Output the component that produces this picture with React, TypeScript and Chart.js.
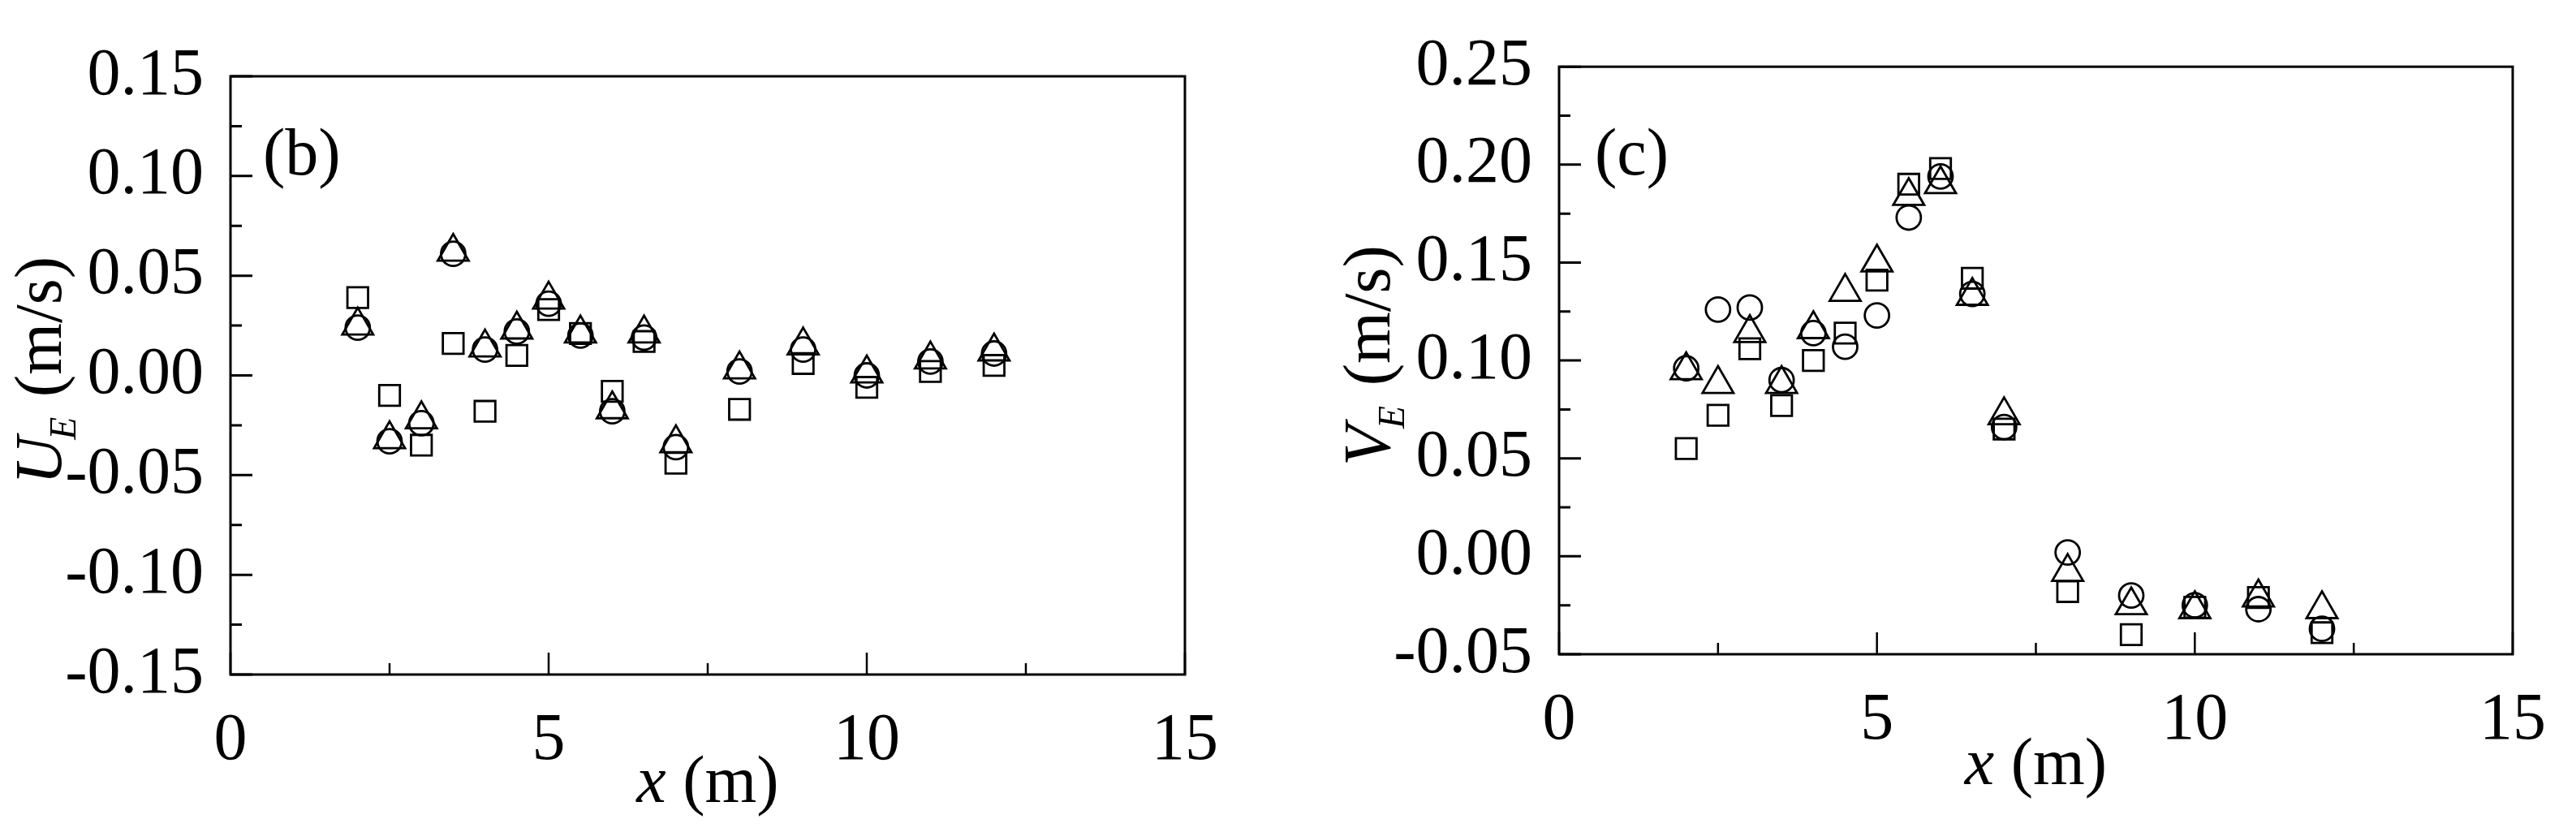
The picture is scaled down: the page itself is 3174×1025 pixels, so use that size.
import React, { useEffect, useRef } from 'react';
import { Chart, registerables } from 'chart.js';

Chart.register(...registerables);

// ---------- data ----------
const xPositions = [2, 2.5, 3, 3.5, 4, 4.5, 5, 5.5, 6, 6.5, 7, 8, 9, 10, 11, 12];

// panel (b): U_E (m/s)
const uSquares = [0.039, -0.010, -0.035, 0.016, -0.018, 0.010, 0.033, 0.021, -0.008, 0.017, -0.044, -0.017, 0.006, -0.006, 0.002, 0.005];
const uCircles = [0.024, -0.033, -0.024, 0.061, 0.013, 0.022, 0.036, 0.020, -0.018, 0.019, -0.036, 0.002, 0.013, 0.000, 0.007, 0.011];
const uTriangles = [0.025, -0.032, -0.022, 0.062, 0.014, 0.023, 0.038, 0.021, -0.017, 0.021, -0.034, 0.003, 0.015, 0.001, 0.008, 0.012];

// panel (c): V_E (m/s)
const vSquares = [0.055, 0.072, 0.106, 0.077, 0.100, 0.114, 0.141, 0.190, 0.198, 0.142, 0.065, -0.018, -0.040, -0.026, -0.021, -0.039];
const vCircles = [0.096, 0.126, 0.127, 0.090, 0.114, 0.107, 0.123, 0.173, 0.194, 0.134, 0.066, 0.002, -0.020, -0.025, -0.027, -0.037];
const vTriangles = [0.095, 0.088, 0.114, 0.088, 0.116, 0.135, 0.150, 0.184, 0.190, 0.133, 0.072, -0.008, -0.025, -0.027, -0.021, -0.027];

// ticks
const xTicksMajor = [0, 5, 10, 15];
const xTicksMinor = [2.5, 7.5, 12.5];
const uTicksMajor = [-0.15, -0.1, -0.05, 0, 0.05, 0.1, 0.15];
const uTicksMinor = [-0.125, -0.075, -0.025, 0.025, 0.075, 0.125];
const vTicksMajor = [-0.05, 0, 0.05, 0.1, 0.15, 0.2, 0.25];
const vTicksMinor = [-0.025, 0.025, 0.075, 0.125, 0.175, 0.225];

const FONT = '"Liberation Serif", "Times New Roman", serif';
const TICK_SIZE = 82;
const TITLE_SIZE = 82;

const framePlugin = {
  id: 'frame',
  afterDraw(chart: any, _args: any, opts: any) {
    const { ctx, chartArea } = chart;
    const { left, right, top, bottom } = chartArea;
    const xs = chart.scales.x;
    const ys = chart.scales.y;
    ctx.save();
    ctx.strokeStyle = '#000';
    // frame
    ctx.lineWidth = 3;
    ctx.strokeRect(left, top, right - left, bottom - top);
    // x ticks (inward from bottom)
    ctx.lineWidth = 2.5;
    ctx.beginPath();
    opts.xMajor.forEach((v: number) => {
      const p = xs.getPixelForValue(v);
      ctx.moveTo(p, bottom);
      ctx.lineTo(p, bottom - 27);
    });
    opts.xMinor.forEach((v: number) => {
      const p = xs.getPixelForValue(v);
      ctx.moveTo(p, bottom);
      ctx.lineTo(p, bottom - 14);
    });
    ctx.stroke();
    // y ticks (inward from left)
    ctx.lineWidth = 3;
    ctx.beginPath();
    opts.yMajor.forEach((v: number) => {
      const p = ys.getPixelForValue(v);
      ctx.moveTo(left, p);
      ctx.lineTo(left + 27, p);
    });
    opts.yMinor.forEach((v: number) => {
      const p = ys.getPixelForValue(v);
      ctx.moveTo(left, p);
      ctx.lineTo(left + 14, p);
    });
    ctx.stroke();

    ctx.fillStyle = '#000';
    // panel label
    ctx.font = `${TICK_SIZE}px ${FONT}`;
    ctx.textAlign = 'left';
    ctx.textBaseline = 'alphabetic';
    ctx.fillText(opts.panel, left + opts.panelDx, top + opts.panelDy);

    // x title: italic x + " (m)"
    const cx = (left + right) / 2;
    const by = bottom + opts.xTitleDy;
    ctx.font = `italic ${TITLE_SIZE}px ${FONT}`;
    const wx = ctx.measureText('x').width;
    ctx.font = `${TITLE_SIZE}px ${FONT}`;
    const wm = ctx.measureText(' (m)').width;
    const sx = cx - (wx + wm) / 2;
    ctx.font = `italic ${TITLE_SIZE}px ${FONT}`;
    ctx.fillText('x', sx, by);
    ctx.font = `${TITLE_SIZE}px ${FONT}`;
    ctx.fillText(' (m)', sx + wx, by);

    // y title: rotated, italic letter + subscript E + " (m/s)"
    const subSize = 46;
    ctx.font = `italic ${TITLE_SIZE}px ${FONT}`;
    const w1 = ctx.measureText(opts.yLetter).width;
    ctx.font = `italic ${subSize}px ${FONT}`;
    const w2 = ctx.measureText('E').width;
    ctx.font = `${TITLE_SIZE}px ${FONT}`;
    const w3 = ctx.measureText(' (m/s)').width;
    const total = w1 + w2 + w3;
    ctx.translate(left - opts.yTitleDx, (top + bottom) / 2 - 6);
    ctx.rotate(-Math.PI / 2);
    let tx = -total / 2;
    ctx.font = `italic ${TITLE_SIZE}px ${FONT}`;
    ctx.fillText(opts.yLetter, tx, 0);
    tx += w1;
    ctx.font = `italic ${subSize}px ${FONT}`;
    ctx.fillText('E', tx - 4, 18);
    tx += w2;
    ctx.font = `${TITLE_SIZE}px ${FONT}`;
    ctx.fillText(' (m/s)', tx, 0);
    ctx.restore();
  },
};

function makeDatasets(sq: number[], ci: number[], tr: number[]) {
  const pts = (arr: number[]) => xPositions.map((x, i) => ({ x, y: arr[i] }));
  const common = {
    showLine: false,
    pointBorderColor: '#000',
    borderColor: '#000',
    pointBackgroundColor: 'rgba(0,0,0,0)',
    backgroundColor: 'rgba(0,0,0,0)',
    pointBorderWidth: 2.8,
    pointHoverRadius: 0,
  };
  return [
    { ...common, label: 'square', data: pts(sq), pointStyle: 'rect', pointRadius: 18 },
    { ...common, label: 'circle', data: pts(ci), pointStyle: 'circle', pointRadius: 15 },
    { ...common, label: 'triangle', data: pts(tr), pointStyle: 'triangle', pointRadius: 22 },
  ];
}

function makeConfig(p: {
  sq: number[]; ci: number[]; tr: number[];
  yMin: number; yMax: number; yMajor: number[]; yMinor: number[];
  yAxisWidth: number; xAxisHeight: number; padTop: number; padRight: number;
  panel: string; panelDx: number; panelDy: number; xTitleDy: number; yTitleDx: number; yLetter: string;
}): any {
  return {
    type: 'scatter',
    data: { datasets: makeDatasets(p.sq, p.ci, p.tr) },
    plugins: [framePlugin],
    options: {
      responsive: false,
      animation: false,
      events: [],
      layout: { padding: { left: 0, top: p.padTop, right: p.padRight, bottom: 0 } },
      plugins: {
        legend: { display: false },
        tooltip: { enabled: false },
        frame: {
          xMajor: xTicksMajor, xMinor: xTicksMinor, yMajor: p.yMajor, yMinor: p.yMinor,
          panel: p.panel, panelDx: p.panelDx, panelDy: p.panelDy,
          xTitleDy: p.xTitleDy, yTitleDx: p.yTitleDx, yLetter: p.yLetter,
        },
      },
      scales: {
        x: {
          type: 'linear',
          min: 0,
          max: 15,
          grid: { display: false, drawTicks: false },
          border: { display: false },
          afterBuildTicks: (scale: any) => { scale.ticks = xTicksMajor.map((v) => ({ value: v })); },
          afterFit: (scale: any) => { scale.height = p.xAxisHeight; },
          ticks: {
            autoSkip: false,
            maxRotation: 0,
            padding: 33,
            color: '#000',
            font: { family: FONT, size: TICK_SIZE },
            callback: (v: any) => String(v),
          },
        },
        y: {
          type: 'linear',
          min: p.yMin,
          max: p.yMax,
          grid: { display: false, drawTicks: false },
          border: { display: false },
          afterBuildTicks: (scale: any) => { scale.ticks = p.yMajor.map((v) => ({ value: v })); },
          afterFit: (scale: any) => { scale.width = p.yAxisWidth; },
          ticks: {
            autoSkip: false,
            padding: 33,
            color: '#000',
            font: { family: FONT, size: TICK_SIZE },
            callback: (v: any) => {
              const n = Number(v);
              return Math.abs(n) < 1e-9 ? '0.00' : n.toFixed(2);
            },
          },
        },
      },
    },
  };
}

function Panel({ config, left }: { config: any; left: number }) {
  const ref = useRef<HTMLCanvasElement>(null);
  useEffect(() => {
    const chart = new Chart(ref.current as HTMLCanvasElement, config);
    return () => chart.destroy();
  }, []);
  return (
    <canvas
      ref={ref}
      width={1587}
      height={1025}
      style={{ position: 'absolute', left, top: 0, width: 1587, height: 1025 }}
    />
  );
}

export default function App() {
  const cfgB = makeConfig({
    sq: uSquares, ci: uCircles, tr: uTriangles,
    yMin: -0.15, yMax: 0.15, yMajor: uTicksMajor, yMinor: uTicksMinor,
    yAxisWidth: 284, xAxisHeight: 194, padTop: 94, padRight: 127,
    panel: '(b)', panelDx: 40, panelDy: 121, xTitleDy: 157, yTitleDx: 209, yLetter: 'U',
  });
  const cfgC = makeConfig({
    sq: vSquares, ci: vCircles, tr: vTriangles,
    yMin: -0.05, yMax: 0.25, yMajor: vTicksMajor, yMinor: vTicksMinor,
    yAxisWidth: 334, xAxisHeight: 219, padTop: 69, padRight: 78,
    panel: '(c)', panelDx: 44, panelDy: 133, xTitleDy: 160, yTitleDx: 209, yLetter: 'V',
  });
  return (
    <div style={{ position: 'absolute', left: 0, top: 0, width: 3174, height: 1025, background: '#fff', overflow: 'hidden' }}>
      <Panel config={cfgB} left={0} />
      <Panel config={cfgC} left={1587} />
    </div>
  );
}
